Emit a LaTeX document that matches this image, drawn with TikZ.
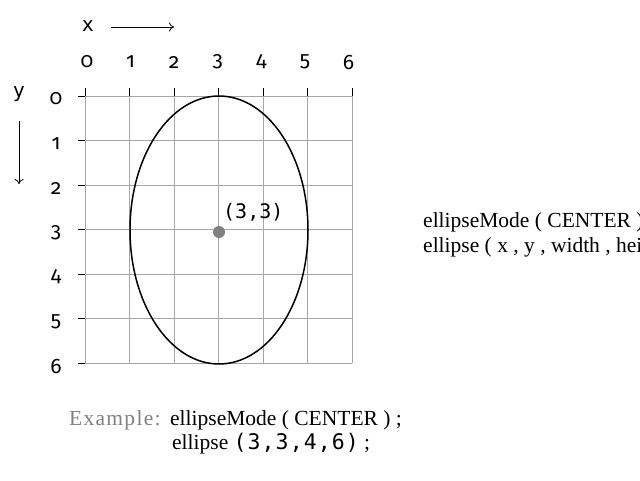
\documentclass[tikz,border=0pt]{standalone}
\usepackage{fontspec}
\setmainfont{Liberation Serif}
\newfontfamily\exf[LetterSpace=6]{Liberation Serif}
\newfontfamily\monof{DejaVu Sans Mono}
\newfontfamily\monow[LetterSpace=5]{DejaVu Sans Mono}
\newfontfamily\numf[Numbers=OldStyle]{Fira Sans}
\usetikzlibrary{arrows.meta}
\tikzset{
  gridline/.style={draw=black!35, line width=1pt},
  tickmark/.style={draw=black, line width=1pt},
  numlab/.style={font=\numf\fontsize{21}{24}\selectfont, inner sep=0pt},
  axlab/.style={font=\monof\fontsize{20}{22}\selectfont, inner sep=0pt},
  codetext/.style={font=\fontsize{21.5}{24}\selectfont, inner sep=0pt, anchor=base west},
  axarrow/.style={draw=black, line width=0.8pt, -{To[length=5pt,width=9pt]}},
}
\begin{document}
\begin{tikzpicture}[x=1pt,y=-1pt]
\useasboundingbox (0,0) rectangle (640,480);
\clip (0,0) rectangle (640,480);
% grid
\foreach \i in {0,...,6} {
  \draw[gridline] (85+44.5*\i,96) -- (85+44.5*\i,363);
  \draw[gridline] (85,96+44.5*\i) -- (352,96+44.5*\i);
}
\foreach \i in {0,...,6} {
  \draw[tickmark] (85+44.5*\i,88) -- (85+44.5*\i,96);
  \draw[tickmark] (78,96+44.5*\i) -- (85,96+44.5*\i);
  \node[numlab] (cx\i) at (87+43.6*\i,62) {\i};
  \node[numlab] (ry\i) at (56,99+44.5*\i) {\i};
}
% axis labels
\node[axlab] (xl) at (88,26) {x};
\coordinate (xa0) at (111,27);
\coordinate (xa1) at (174,27);
\draw[axarrow] (xa0) -- (xa1);
\node[axlab] (yl) at (19,94) {y};
\coordinate (ya0) at (19,121);
\coordinate (ya1) at (19,184);
\draw[axarrow] (ya0) -- (ya1);
% ellipse
\draw[line width=1.5pt] (219,230) ellipse [x radius=89, y radius=134];
\node[circle, fill=black!50, minimum size=12pt, inner sep=0pt] (ctr) at (219,232) {};
\node[axlab, anchor=west] (ctrlab) at (223,212) {(3,3)};
% right text (cut by the right edge, as in the reference)
\node[codetext] (r1) at (423,227) {ellipseMode ( CENTER ) ;};
\node[codetext] (r2) at (423,252) {ellipse ( x , y , width , height ) ;};
% bottom example
\node[codetext, font=\exf\fontsize{21.5}{24}\selectfont, text=black!50] (ex) at (69,425) {Example:};
\node[codetext] (b1) at (170,425) {ellipseMode ( CENTER ) ;};
\node[codetext] (b2) at (172,449) {ellipse {\monow(3,3,4,6)} ;};
\end{tikzpicture}
\end{document}
